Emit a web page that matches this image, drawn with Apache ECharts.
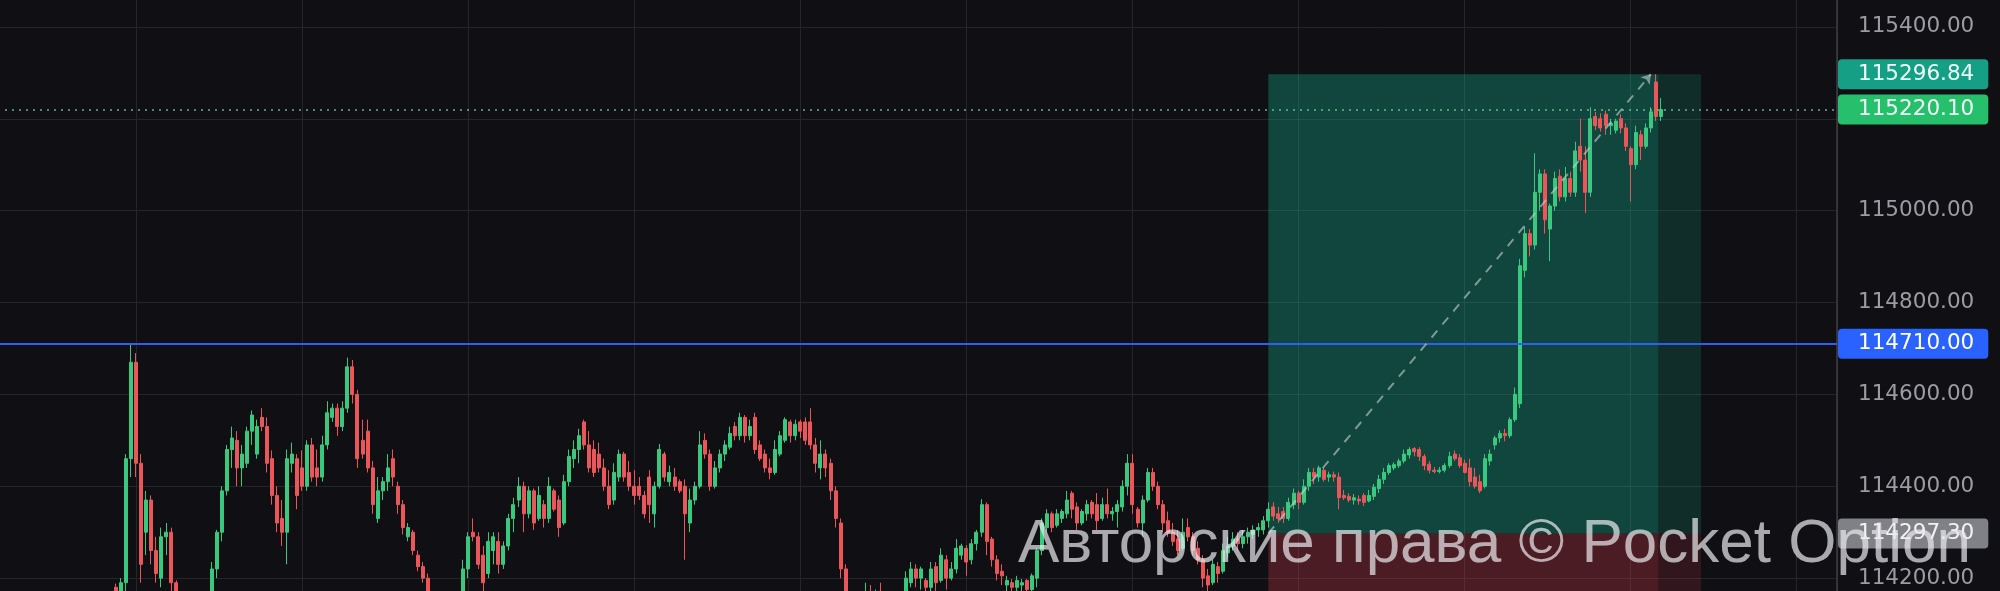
<!DOCTYPE html>
<html>
<head>
<meta charset="utf-8">
<script src="https://cdn.jsdelivr.net/npm/echarts@6/dist/echarts.min.js"></script>
<style>
html,body{margin:0;padding:0;background:#0f0f14;overflow:hidden;}
#chart{width:2000px;height:591px;}
</style>
</head>
<body>
<div id="chart"></div>
<script>
// ---- data ----
// bar index of the first candle
const firstBar = -4;
// each row: [open, close, low, high]
const candles = [
[114180,114170,114150,114188],[114170,114190,114160,114200],[114190,114460,114170,114470],[114460,114670,114420,114710],
[114670,114450,114420,114690],[114450,114230,114190,114470],[114300,114370,114250,114390],[114370,114260,114230,114380],
[114260,114210,114190,114290],[114200,114290,114180,114310],[114290,114300,114250,114320],[114300,114190,114170,114310],
[114190,114120,114090,114195],[114120,114100,114070,114140],[114100,114070,114040,114120],[114070,114060,114030,114090],
[114060,114080,114050,114120],[114080,114120,114060,114140],[114120,114150,114100,114165],[114150,114220,114130,114235],
[114220,114300,114200,114305],[114300,114390,114280,114400],[114390,114480,114380,114490],[114480,114505,114440,114530],
[114500,114440,114400,114520],[114440,114470,114400,114490],[114450,114520,114440,114530],[114520,114555,114490,114565],
[114470,114530,114460,114545],[114550,114530,114520,114570],[114530,114450,114430,114550],[114460,114380,114360,114478],
[114380,114320,114300,114400],[114330,114300,114270,114370],[114300,114460,114230,114480],[114450,114470,114430,114495],
[114460,114380,114350,114470],[114440,114400,114390,114478],[114400,114490,114390,114500],[114490,114420,114410,114505],
[114440,114420,114400,114480],[114420,114490,114410,114510],[114490,114560,114480,114585],[114550,114570,114540,114580],
[114570,114530,114510,114580],[114530,114570,114520,114585],[114570,114660,114560,114680],[114660,114600,114580,114675],
[114600,114460,114440,114610],[114500,114470,114460,114545],[114520,114440,114430,114545],[114440,114360,114340,114455],
[114330,114390,114320,114420],[114390,114410,114370,114420],[114410,114440,114390,114470],[114460,114420,114400,114480],
[114400,114360,114340,114410],[114360,114310,114295,114370],[114290,114310,114280,114320],[114300,114260,114250,114305],
[114250,114225,114215,114260],[114225,114200,114190,114235],[114200,114160,114140,114210],[114160,114120,114100,114170],
[114120,114090,114070,114140],[114090,114100,114060,114130],[114100,114070,114050,114120],[114070,114110,114050,114140],
[114110,114140,114090,114160],[114140,114220,114120,114240],[114220,114290,114200,114300],[114300,114290,114280,114330],
[114290,114230,114220,114300],[114250,114190,114160,114270],[114210,114280,114200,114300],[114260,114290,114230,114300],
[114280,114230,114210,114300],[114230,114270,114220,114280],[114270,114330,114260,114340],[114330,114360,114300,114375],
[114370,114400,114355,114420],[114400,114340,114300,114410],[114340,114390,114330,114400],[114390,114320,114305,114395],
[114330,114380,114325,114400],[114360,114330,114310,114370],[114330,114400,114320,114420],[114390,114350,114345,114395],
[114370,114310,114290,114380],[114320,114410,114315,114425],[114410,114465,114400,114480],[114460,114480,114440,114500],
[114480,114510,114450,114525],[114540,114490,114480,114545],[114490,114440,114430,114520],[114480,114430,114420,114500],
[114470,114440,114430,114495],[114440,114400,114390,114460],[114400,114360,114350,114435],[114370,114430,114360,114450],
[114420,114470,114410,114480],[114470,114420,114410,114475],[114430,114400,114390,114455],[114400,114380,114360,114435],
[114400,114380,114370,114420],[114380,114340,114330,114390],[114420,114360,114320,114435],[114340,114400,114310,114410],
[114400,114480,114395,114492],[114470,114420,114410,114475],[114410,114430,114400,114445],[114420,114400,114390,114440],
[114410,114390,114385,114415],[114400,114340,114240,114415],[114320,114370,114300,114395],[114370,114400,114360,114410],
[114400,114490,114395,114520],[114500,114470,114460,114515],[114470,114400,114390,114480],[114400,114440,114395,114455],
[114440,114470,114430,114480],[114470,114490,114455,114500],[114485,114515,114480,114530],[114530,114510,114500,114540],
[114510,114550,114500,114560],[114550,114510,114495,114555],[114510,114530,114500,114545],[114550,114480,114470,114560],
[114490,114460,114455,114500],[114470,114440,114430,114480],[114440,114430,114415,114460],[114430,114480,114425,114500],
[114470,114510,114465,114520],[114500,114545,114495,114550],[114540,114510,114495,114545],[114510,114535,114500,114545],
[114540,114520,114505,114545],[114540,114500,114490,114550],[114540,114490,114480,114570],[114490,114450,114430,114505],
[114440,114470,114415,114500],[114470,114440,114420,114480],[114450,114390,114370,114460],[114390,114330,114310,114400],
[114320,114220,114200,114330],[114220,114160,114150,114230],[114160,114120,114100,114170],[114120,114110,114080,114150],
[114110,114140,114090,114160],[114140,114170,114120,114190],[114170,114150,114130,114185],[114150,114160,114130,114175],
[114160,114150,114120,114190],[114150,114140,114110,114165],[114140,114150,114110,114160],[114150,114130,114110,114165],
[114130,114160,114120,114170],[114160,114200,114150,114215],[114190,114220,114180,114235],[114220,114200,114180,114230],
[114200,114220,114175,114225],[114195,114180,114160,114200],[114180,114220,114170,114235],[114225,114190,114170,114235],
[114195,114250,114190,114265],[114240,114200,114175,114250],[114200,114220,114195,114235],[114220,114265,114210,114285],
[114250,114270,114240,114275],[114265,114235,114205,114272],[114240,114275,114230,114285],[114275,114300,114260,114305],
[114300,114360,114290,114372],[114360,114280,114250,114365],[114285,114240,114225,114290],[114240,114210,114195,114250],
[114215,114205,114185,114230],[114185,114195,114160,114205],[114190,114180,114160,114198],[114180,114195,114160,114205],
[114185,114190,114160,114198],[114195,114175,114150,114198],[114175,114205,114160,114210],[114200,114260,114180,114265],
[114260,114320,114250,114330],[114310,114340,114300,114350],[114340,114310,114300,114345],[114315,114340,114310,114350],
[114330,114345,114320,114350],[114340,114370,114330,114390],[114385,114350,114330,114390],[114355,114320,114305,114365],
[114320,114345,114315,114350],[114340,114360,114325,114370],[114365,114340,114330,114370],[114360,114325,114305,114385],
[114330,114360,114325,114375],[114360,114340,114330,114395],[114340,114345,114325,114355],[114345,114360,114310,114370],
[114355,114400,114345,114413],[114400,114450,114380,114470],[114450,114360,114340,114470],[114350,114320,114310,114355],
[114320,114370,114290,114380],[114370,114430,114365,114440],[114430,114400,114390,114440],[114400,114360,114350,114410],
[114360,114320,114300,114370],[114325,114300,114290,114345],[114300,114280,114270,114320],[114285,114260,114250,114305],
[114265,114300,114260,114330],[114310,114290,114280,114330],[114290,114260,114250,114300],[114265,114240,114230,114280],
[114240,114200,114180,114250],[114205,114185,114160,114220],[114190,114230,114185,114240],[114225,114210,114190,114235],
[114215,114260,114210,114275],[114255,114270,114245,114290],[114270,114285,114260,114300],[114285,114275,114260,114300],
[114275,114290,114265,114305],[114290,114300,114275,114310],[114295,114305,114285,114315],[114305,114310,114290,114320],
[114305,114325,114295,114335],[114325,114350,114310,114365],[114355,114335,114325,114365],[114340,114330,114320,114355],
[114345,114330,114320,114355],[114330,114365,114325,114375],[114360,114385,114350,114395],[114385,114365,114350,114390],
[114365,114400,114360,114415],[114400,114430,114390,114440],[114430,114420,114405,114440],[114420,114440,114410,114445],
[114435,114415,114410,114440],[114420,114425,114410,114432],[114425,114420,114410,114432],[114420,114375,114350,114430],
[114380,114375,114370,114392],[114378,114370,114365,114385],[114370,114375,114360,114383],[114372,114368,114360,114380],
[114380,114365,114357,114385],[114368,114380,114365,114392],[114378,114398,114370,114405],[114395,114415,114385,114425],
[114415,114430,114405,114440],[114430,114445,114425,114450],[114440,114447,114435,114452],[114445,114455,114440,114460],
[114455,114470,114450,114480],[114468,114480,114460,114485],[114482,114475,114465,114485],[114480,114465,114455,114485],
[114465,114445,114435,114470],[114448,114435,114428,114455],[114435,114432,114428,114442],[114432,114435,114428,114442],
[114435,114445,114430,114450],[114445,114465,114440,114475],[114470,114460,114455,114478],[114462,114445,114440,114470],
[114450,114430,114428,114458],[114440,114410,114400,114460],[114420,114400,114395,114440],[114410,114390,114385,114425],
[114400,114460,114395,114470],[114455,114470,114445,114480],[114490,114505,114480,114510],[114505,114515,114495,114522],
[114515,114510,114498,114525],[114510,114545,114505,114550],[114545,114600,114540,114615],[114580,114880,114570,114895],
[114870,114950,114855,114965],[114950,114925,114900,114960],[114925,115040,114915,115125],[115040,115080,115000,115090],
[115080,114980,114950,115090],[114960,115010,114890,115015],[115010,115070,115000,115085],[115075,115030,115020,115090],
[115030,115070,115020,115095],[115070,115040,115030,115085],[115040,115130,115030,115150],[115140,115110,115085,115200],
[115110,115040,114995,115140],[115040,115200,115030,115225],[115205,115185,115175,115215],[115200,115180,115172,115212],
[115210,115185,115165,115218],[115185,115190,115165,115200],[115175,115195,115168,115200],[115200,115180,115168,115210],
[115180,115140,115130,115190],[115135,115100,115020,115140],[115100,115170,115090,115185],[115165,115140,115110,115175],
[115140,115180,115135,115190],[115180,115215,115170,115225],[115280,115205,115195,115296.84],[115205,115220.10,115195,115245]
];

// price levels shown on the right scale
const currentPrice = 115220.10;
const targetPrice = 115296.84;
const entryPrice = 114297.30;
const levelPrice = 114710.00;
const stopPrice = 114000.00;

// long-position tool (bar indices)
const positionStartBar = 225;
const positionCurrentBar = 302.5;
const positionEndBar = 311;
const projectionEndBar = 301;

// axis settings
const yMin = 114000, yMax = 115600, yStep = 200;
const xMin = -33, xMax = 338, xStep = 33;

const watermarkText = 'Авторские права © Pocket Option';

// ---- chart ----
const seriesData = candles.map((r, k) => [firstBar + k, r[0], r[1], r[2], r[3]]);

const badgeFont = '"DejaVu Sans", sans-serif';
function badge(bg, fg) {
  return {
    show: true, position: 'end', distance: 1,
    formatter: p => Number(p.value).toFixed(2),
    backgroundColor: bg, color: fg,
    fontFamily: badgeFont, fontSize: 21.5, lineHeight: 22,
    padding: [4, 14, 4, 20], borderRadius: 4
  };
}

const chart = echarts.init(document.getElementById('chart'), null, {renderer: 'canvas'});
chart.setOption({
  animation: false,
  backgroundColor: '#0f0f14',
  grid: {left: -30, right: 163, top: -65, bottom: -79, containLabel: false, outerBoundsMode: 'none'},
  xAxis: {
    type: 'value', min: xMin, max: xMax, interval: xStep,
    axisLabel: {show: false}, axisTick: {show: false}, axisLine: {show: false, onZero: false},
    splitLine: {show: true, lineStyle: {color: '#25252b', width: 1}}
  },
  yAxis: {
    type: 'value', position: 'right', min: yMin, max: yMax, interval: yStep,
    axisLine: {show: true, onZero: false, lineStyle: {color: '#3e3e45', width: 1.5}},
    axisTick: {show: false},
    axisLabel: {
      show: true, margin: 21, color: '#9c9ca2', fontFamily: badgeFont, fontSize: 21.5,
      showMinLabel: false, showMaxLabel: false,
      formatter: v => v.toFixed(2)
    },
    splitLine: {show: true, lineStyle: {color: '#25252b', width: 1}}
  },
  series: [{
    type: 'candlestick',
    data: seriesData,
    encode: {x: 0, y: [1, 2, 3, 4]},
    barWidth: 3.5,
    itemStyle: {
      color: '#38c97f', color0: '#ea5659',
      borderColor: '#38c97f', borderColor0: '#ea5659', borderWidth: 1
    },
    markArea: {
      silent: true,
      data: [
        [{xAxis: positionStartBar, yAxis: entryPrice, itemStyle: {color: 'rgba(20,175,140,0.35)'}},
         {xAxis: positionCurrentBar, yAxis: targetPrice}],
        [{xAxis: positionCurrentBar, yAxis: entryPrice, itemStyle: {color: 'rgba(20,175,140,0.19)'}},
         {xAxis: positionEndBar, yAxis: targetPrice}],
        [{xAxis: positionStartBar, yAxis: stopPrice, itemStyle: {color: 'rgba(220,60,75,0.30)'}},
         {xAxis: positionCurrentBar, yAxis: entryPrice}],
        [{xAxis: positionCurrentBar, yAxis: stopPrice, itemStyle: {color: 'rgba(220,60,75,0.17)'}},
         {xAxis: positionEndBar, yAxis: entryPrice}]
      ]
    },
    markLine: {
      silent: true,
      symbol: ['none', 'none'],
      data: [
        {yAxis: levelPrice, lineStyle: {color: '#2d5ef7', width: 2, type: 'solid'},
         label: badge('#2962ff', '#ffffff')},
        {yAxis: currentPrice, lineStyle: {color: 'rgba(110,210,155,0.85)', width: 1.5, type: [2, 5]},
         label: badge('#26c06c', '#effff6')},
        {yAxis: targetPrice, lineStyle: {width: 0, color: 'transparent'},
         label: badge('#159f84', '#effff9')},
        {yAxis: entryPrice, lineStyle: {width: 0, color: 'transparent'},
         label: badge('#808087', '#f2f2f2')},
        [
          {coord: [positionStartBar, entryPrice], symbol: 'none'},
          {coord: [projectionEndBar, targetPrice], symbol: 'arrow', symbolSize: 9,
           lineStyle: {color: 'rgba(195,212,205,0.6)', width: 2, type: [9, 8]},
           label: {show: false}}
        ]
      ]
    }
  }],
  graphic: [{
    type: 'text', x: 1018, y: 545, z: 100, silent: true,
    style: {
      text: watermarkText, fill: 'rgba(235,235,240,0.7)',
      font: '62px "Liberation Sans", Arial, sans-serif',
      align: 'left', verticalAlign: 'middle'
    }
  }]
});
</script>
</body>
</html>
